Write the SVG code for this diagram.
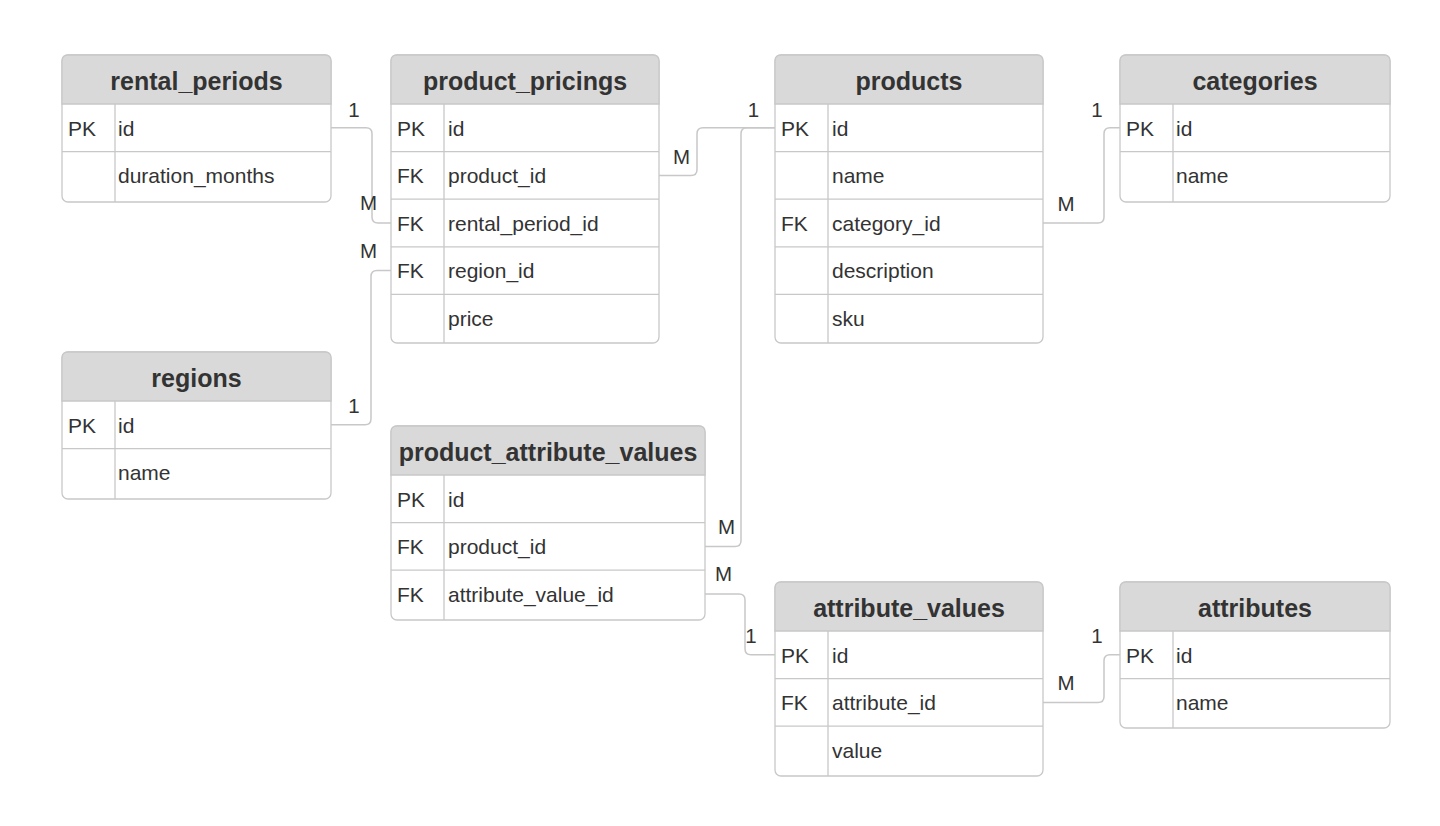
<svg xmlns="http://www.w3.org/2000/svg" width="1440" height="826" viewBox="0 0 1440 826">
<style>
.box{fill:#ffffff;stroke:#c8c8c8;stroke-width:1.3}
.hd{fill:#d9d9d9;stroke:#c8c8c8;stroke-width:1.3}
.ln{stroke:#c8c8c8;stroke-width:1.3;fill:none}
.title{font-family:"Liberation Sans",Arial,sans-serif;font-weight:bold;font-size:25px;fill:#333333;text-anchor:middle}
.t{font-family:"Liberation Sans",Arial,sans-serif;font-size:21px;fill:#333333}
.lbl{font-family:"Liberation Sans",Arial,sans-serif;font-size:20.5px;fill:#333333;text-anchor:middle}
.conn{stroke:#c8c8c8;stroke-width:1.5;fill:none}
</style>
<rect width="1440" height="826" fill="#ffffff"/>

<g id="connectors">
<path class="conn" d="M331,127.8 H366 Q372,127.8 372,133.8 V217 Q372,223 378,223 H391"/>
<path class="conn" d="M331,424.8 H365 Q371,424.8 371,418.8 V276.6 Q371,270.6 377,270.6 H391"/>
<path class="conn" d="M659,175.4 H691 Q697,175.4 697,169.4 V133.8 Q697,127.8 703,127.8 H775"/>
<path class="conn" d="M705,546.4 H735 Q741,546.4 741,540.4 V133.8 Q741,127.8 747,127.8 H775"/>
<path class="conn" d="M705,594 H739 Q745,594 745,600 V648.8 Q745,654.8 751,654.8 H775"/>
<path class="conn" d="M1043,223 H1098 Q1104,223 1104,217 V133.8 Q1104,127.8 1110,127.8 H1120"/>
<path class="conn" d="M1043,702.4 H1098 Q1104,702.4 1104,696.4 V660.8 Q1104,654.8 1110,654.8 H1120"/>
<text class="lbl" x="354" y="117">1</text>
<text class="lbl" x="368.5" y="210">M</text>
<text class="lbl" x="368.5" y="258">M</text>
<text class="lbl" x="354" y="413">1</text>
<text class="lbl" x="681.5" y="164">M</text>
<text class="lbl" x="753.5" y="117">1</text>
<text class="lbl" x="726.5" y="534">M</text>
<text class="lbl" x="723.5" y="581">M</text>
<text class="lbl" x="751" y="643">1</text>
<text class="lbl" x="1097" y="117">1</text>
<text class="lbl" x="1066" y="211">M</text>
<text class="lbl" x="1097" y="643">1</text>
<text class="lbl" x="1066" y="690">M</text>
</g>

<g id="rental_periods">
<rect class="box" x="62" y="55" width="269" height="147" rx="6"/>
<path class="hd" d="M62,104 V61 Q62,55 68,55 H325 Q331,55 331,61 V104 Z"/>
<text class="title" x="196.5" y="90">rental_periods</text>
<line class="ln" x1="62" y1="151.6" x2="331" y2="151.6"/>
<line class="ln" x1="115" y1="104" x2="115" y2="202"/>
<text class="t" x="68" y="135.5">PK</text><text class="t" x="118" y="135.5">id</text>
<text class="t" x="118" y="183">duration_months</text>
</g>

<g id="product_pricings">
<rect class="box" x="391" y="55" width="268" height="288" rx="6"/>
<path class="hd" d="M391,104 V61 Q391,55 397,55 H653 Q659,55 659,61 V104 Z"/>
<text class="title" x="525" y="90">product_pricings</text>
<line class="ln" x1="391" y1="151.6" x2="659" y2="151.6"/>
<line class="ln" x1="391" y1="199.2" x2="659" y2="199.2"/>
<line class="ln" x1="391" y1="246.8" x2="659" y2="246.8"/>
<line class="ln" x1="391" y1="294.4" x2="659" y2="294.4"/>
<line class="ln" x1="444" y1="104" x2="444" y2="343"/>
<text class="t" x="397" y="135.5">PK</text><text class="t" x="448" y="135.5">id</text>
<text class="t" x="397" y="183">FK</text><text class="t" x="448" y="183">product_id</text>
<text class="t" x="397" y="230.5">FK</text><text class="t" x="448" y="230.5">rental_period_id</text>
<text class="t" x="397" y="278">FK</text><text class="t" x="448" y="278">region_id</text>
<text class="t" x="448" y="325.5">price</text>
</g>

<g id="products">
<rect class="box" x="775" y="55" width="268" height="288" rx="6"/>
<path class="hd" d="M775,104 V61 Q775,55 781,55 H1037 Q1043,55 1043,61 V104 Z"/>
<text class="title" x="909" y="90">products</text>
<line class="ln" x1="775" y1="151.6" x2="1043" y2="151.6"/>
<line class="ln" x1="775" y1="199.2" x2="1043" y2="199.2"/>
<line class="ln" x1="775" y1="246.8" x2="1043" y2="246.8"/>
<line class="ln" x1="775" y1="294.4" x2="1043" y2="294.4"/>
<line class="ln" x1="828" y1="104" x2="828" y2="343"/>
<text class="t" x="781" y="135.5">PK</text><text class="t" x="832" y="135.5">id</text>
<text class="t" x="832" y="183">name</text>
<text class="t" x="781" y="230.5">FK</text><text class="t" x="832" y="230.5">category_id</text>
<text class="t" x="832" y="278">description</text>
<text class="t" x="832" y="325.5">sku</text>
</g>

<g id="categories">
<rect class="box" x="1120" y="55" width="270" height="147" rx="6"/>
<path class="hd" d="M1120,104 V61 Q1120,55 1126,55 H1384 Q1390,55 1390,61 V104 Z"/>
<text class="title" x="1255" y="90">categories</text>
<line class="ln" x1="1120" y1="151.6" x2="1390" y2="151.6"/>
<line class="ln" x1="1173" y1="104" x2="1173" y2="202"/>
<text class="t" x="1126" y="135.5">PK</text><text class="t" x="1176" y="135.5">id</text>
<text class="t" x="1176" y="183">name</text>
</g>

<g id="regions">
<rect class="box" x="62" y="352" width="269" height="147" rx="6"/>
<path class="hd" d="M62,401 V358 Q62,352 68,352 H325 Q331,352 331,358 V401 Z"/>
<text class="title" x="196.5" y="387">regions</text>
<line class="ln" x1="62" y1="448.6" x2="331" y2="448.6"/>
<line class="ln" x1="115" y1="401" x2="115" y2="499"/>
<text class="t" x="68" y="432.5">PK</text><text class="t" x="118" y="432.5">id</text>
<text class="t" x="118" y="480">name</text>
</g>

<g id="product_attribute_values">
<rect class="box" x="391" y="426" width="314" height="194" rx="6"/>
<path class="hd" d="M391,475 V432 Q391,426 397,426 H699 Q705,426 705,432 V475 Z"/>
<text class="title" x="548" y="461">product_attribute_values</text>
<line class="ln" x1="391" y1="522.6" x2="705" y2="522.6"/>
<line class="ln" x1="391" y1="570.2" x2="705" y2="570.2"/>
<line class="ln" x1="444" y1="475" x2="444" y2="620"/>
<text class="t" x="397" y="506.5">PK</text><text class="t" x="448" y="506.5">id</text>
<text class="t" x="397" y="554">FK</text><text class="t" x="448" y="554">product_id</text>
<text class="t" x="397" y="601.5">FK</text><text class="t" x="448" y="601.5">attribute_value_id</text>
</g>

<g id="attribute_values">
<rect class="box" x="775" y="582" width="268" height="194" rx="6"/>
<path class="hd" d="M775,631 V588 Q775,582 781,582 H1037 Q1043,582 1043,588 V631 Z"/>
<text class="title" x="909" y="617">attribute_values</text>
<line class="ln" x1="775" y1="678.6" x2="1043" y2="678.6"/>
<line class="ln" x1="775" y1="726.2" x2="1043" y2="726.2"/>
<line class="ln" x1="828" y1="631" x2="828" y2="776"/>
<text class="t" x="781" y="662.5">PK</text><text class="t" x="832" y="662.5">id</text>
<text class="t" x="781" y="710">FK</text><text class="t" x="832" y="710">attribute_id</text>
<text class="t" x="832" y="757.5">value</text>
</g>

<g id="attributes">
<rect class="box" x="1120" y="582" width="270" height="146" rx="6"/>
<path class="hd" d="M1120,631 V588 Q1120,582 1126,582 H1384 Q1390,582 1390,588 V631 Z"/>
<text class="title" x="1255" y="617">attributes</text>
<line class="ln" x1="1120" y1="678.6" x2="1390" y2="678.6"/>
<line class="ln" x1="1173" y1="631" x2="1173" y2="728"/>
<text class="t" x="1126" y="662.5">PK</text><text class="t" x="1176" y="662.5">id</text>
<text class="t" x="1176" y="710">name</text>
</g>
</svg>
